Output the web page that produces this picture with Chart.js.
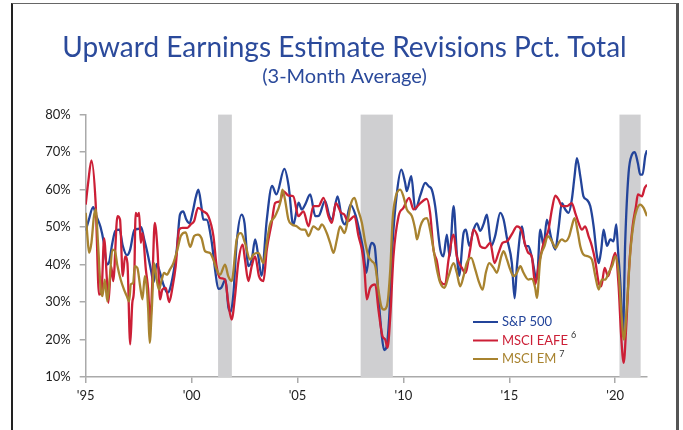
<!DOCTYPE html>
<html>
<head>
<meta charset="utf-8">
<script src="https://cdn.jsdelivr.net/npm/chart.js@4.4.1/dist/chart.umd.min.js"></script>
<style>
    body { margin: 0; background: #fff; }
    #frame {
        position: absolute; left: 11px; top: 3px; width: 663px; height: 440px;
        border-left: 2px solid #222; border-top: 1px solid #666; border-right: 3px solid #555;
    }
    #box { position: relative; width: 663px; height: 426px; }
</style>
</head>
<body>
<div id="frame"><div id="box"><canvas id="revisionsChart"></canvas></div></div>
<script>
// [year, % of revisions that are upward]
const sp500 = [
    [1995.0,49],[1995.15,52],[1995.35,55.3],[1995.5,53],[1995.7,50],[1995.85,46],[1996.0,40],[1996.1,40.5],
    [1996.25,45.5],[1996.4,49],[1996.6,49.3],[1996.75,45],[1996.95,42.5],[1997.1,44],[1997.3,49.3],[1997.5,49.5],
    [1997.62,50],[1997.75,47],[1997.9,43.5],[1998.1,38],[1998.2,35.2],[1998.35,40.2],[1998.5,38],[1998.65,35],
    [1998.85,32.5],[1998.95,33],[1999.15,38],[1999.3,44],[1999.45,53.3],[1999.6,54.2],[1999.75,52],[1999.9,51],
    [2000.05,54],[2000.2,58],[2000.32,60],[2000.45,56],[2000.55,52],[2000.7,52],[2000.95,46],[2001.1,39],
    [2001.26,33.5],[2001.4,33.8],[2001.6,36],[2001.74,28.5],[2001.85,27.5],[2001.97,32],[2002.13,46],[2002.36,53.3],
    [2002.5,51],[2002.68,39.6],[2002.84,41.3],[2003.0,46.7],[2003.15,42.2],[2003.3,37],[2003.55,52],[2003.8,61],
    [2004.0,58.7],[2004.38,65.5],[2004.58,61],[2004.8,50.5],[2005.05,56.5],[2005.2,54.7],[2005.36,56],[2005.6,58.7],
    [2005.84,52.9],[2006.0,53],[2006.3,57],[2006.5,53],[2006.62,52],[2006.89,58.2],[2007.1,52],[2007.25,50.7],
    [2007.5,56],[2007.75,53],[2007.96,48],[2008.1,44],[2008.25,37.8],[2008.4,44],[2008.5,45.8],[2008.64,44.9],
    [2008.82,31.6],[2008.98,21],[2009.09,17.2],[2009.2,18],[2009.33,26],[2009.49,45.8],[2009.69,59],[2009.9,65.3],
    [2010.08,61.8],[2010.16,59.6],[2010.37,63.6],[2010.56,54.7],[2010.8,58.5],[2011.03,61.8],[2011.19,60.9],[2011.34,60],
    [2011.5,55.6],[2011.74,44],[2011.89,42.2],[2012.05,48],[2012.18,42.2],[2012.37,55.6],[2012.52,43],[2012.63,37],
    [2012.84,48.4],[2012.95,49.3],[2013.11,45],[2013.31,49.3],[2013.47,51],[2013.63,49],[2013.78,50.7],[2013.94,53.3],
    [2014.15,45],[2014.33,47.6],[2014.57,53.8],[2014.73,52],[2014.89,47],[2015.12,40.4],[2015.25,31],[2015.36,39.6],
    [2015.6,50.2],[2015.75,45],[2015.9,44.9],[2016.06,42],[2016.3,36],[2016.46,49.3],[2016.62,45],[2016.77,52],
    [2016.98,47],[2017.17,44],[2017.33,50],[2017.48,56.4],[2017.64,54.7],[2017.8,53.8],[2017.95,57.3],[2018.08,63.6],
    [2018.19,68.4],[2018.35,63.6],[2018.5,58.2],[2018.66,57.3],[2018.82,55.6],[2018.98,50.2],[2019.14,42.2],[2019.22,40.4],
    [2019.34,44],[2019.45,49.3],[2019.61,45],[2019.77,46.7],[2019.92,46.2],[2020.05,50.7],[2020.13,44],[2020.24,35],
    [2020.36,21],[2020.47,45.8],[2020.63,64.4],[2020.79,69.3],[2020.92,70],[2021.07,67],[2021.18,64],[2021.29,64],
    [2021.42,69],[2021.5,70.5]
];

const msciEafe = [
    [1995.0,56],[1995.12,62],[1995.27,67.8],[1995.47,56.4],[1995.63,32],[1995.74,32.4],[1995.87,47],[1996.0,36],
    [1996.07,29.8],[1996.2,39.6],[1996.3,35.6],[1996.5,52.9],[1996.62,52],[1996.75,36.9],[1996.86,42.2],[1996.97,40.4],
    [1997.1,18.7],[1997.2,29.8],[1997.28,33.3],[1997.36,53.8],[1997.44,52.9],[1997.52,53.8],[1997.6,45.8],[1997.68,48.4],
    [1997.84,38.7],[1997.95,33.3],[1998.04,24.4],[1998.15,36],[1998.26,51.1],[1998.39,44],[1998.51,30.7],[1998.62,33.3],
    [1998.78,33.8],[1998.94,30],[1999.1,34],[1999.25,39.6],[1999.41,49.3],[1999.57,49.8],[1999.8,49.8],[1999.96,50.7],
    [2000.12,51.6],[2000.3,55.1],[2000.55,54.2],[2000.79,52.9],[2001.03,47.6],[2001.18,39.6],[2001.34,36.4],[2001.58,36],
    [2001.73,29.8],[2001.89,25.3],[2002.05,31.6],[2002.2,40.4],[2002.41,45.3],[2002.52,41.3],[2002.68,35.6],[2002.84,39.6],
    [2003.0,42.2],[2003.18,36.9],[2003.39,35.6],[2003.55,44],[2003.78,51.1],[2003.94,56.4],[2004.18,56.9],[2004.33,59.6],
    [2004.57,58.4],[2004.8,58.2],[2005.04,52.9],[2005.28,54.2],[2005.52,50.2],[2005.75,55.6],[2005.99,55.6],[2006.23,57.8],
    [2006.46,52.9],[2006.62,51.1],[2006.81,56.4],[2007.06,53.8],[2007.2,53.4],[2007.38,51.6],[2007.69,52.9],[2007.88,47.6],
    [2008.04,44],[2008.16,38.7],[2008.27,30.7],[2008.43,33.8],[2008.67,34.7],[2008.82,28],[2009.01,20.9],[2009.14,20],
    [2009.25,17.8],[2009.38,26.2],[2009.53,42.2],[2009.77,52.9],[2010.0,55.1],[2010.27,57.8],[2010.48,54.7],[2010.8,56.4],
    [2011.1,57.5],[2011.26,53.8],[2011.42,44],[2011.58,40.9],[2011.74,35.6],[2011.97,34.7],[2012.13,41.3],[2012.37,48],
    [2012.52,42.2],[2012.76,39.1],[2012.92,37.8],[2013.15,44],[2013.31,49.3],[2013.47,48],[2013.63,44.9],[2013.86,44.4],
    [2014.1,45.8],[2014.3,40.4],[2014.49,43.1],[2014.68,45.8],[2014.89,46.2],[2015.15,48.4],[2015.36,50.2],[2015.56,49.3],
    [2015.75,45.3],[2015.9,43.1],[2016.06,42.2],[2016.22,34.7],[2016.38,39.6],[2016.62,45.8],[2016.85,49.3],[2017.01,54.7],
    [2017.17,58.4],[2017.33,57.3],[2017.48,55.6],[2017.72,55.6],[2017.95,56.4],[2018.11,53.8],[2018.27,51.1],[2018.43,49.3],
    [2018.58,50.2],[2018.74,47.6],[2018.9,44.9],[2019.06,40.9],[2019.22,35.1],[2019.34,34.2],[2019.5,39.1],[2019.66,36.9],
    [2019.81,39.6],[2020.0,43.1],[2020.16,34.2],[2020.28,20.9],[2020.4,13.8],[2020.52,23.6],[2020.66,39.6],[2020.82,50.2],
    [2020.98,55.6],[2021.07,58.7],[2021.26,58.2],[2021.39,60.4],[2021.5,61.3]
];

const msciEm = [
    [1995.0,53.8],[1995.08,47.6],[1995.16,43.1],[1995.27,45.8],[1995.39,52.9],[1995.47,54.7],[1995.58,45.8],[1995.71,33.3],
    [1995.79,31.6],[1995.9,36],[1996.02,30.2],[1996.13,36],[1996.26,44],[1996.38,43.6],[1996.5,39.6],[1996.65,36],
    [1996.81,33.3],[1996.94,31.6],[1997.05,30.2],[1997.13,34.7],[1997.24,35.1],[1997.32,39.6],[1997.44,39.1],[1997.57,34.2],
    [1997.68,30.7],[1997.79,36.9],[1997.88,34.2],[1997.95,28],[1998.02,19.1],[1998.12,28],[1998.23,40.4],[1998.35,36],
    [1998.46,33.3],[1998.59,36],[1998.7,37.8],[1998.83,37.3],[1998.98,38.7],[1999.14,40.4],[1999.33,44],[1999.49,47.6],
    [1999.72,48.6],[1999.93,44.7],[2000.12,47.6],[2000.3,48],[2000.47,47],[2000.63,43.6],[2000.87,43.1],[2001.03,41.3],
    [2001.18,38.7],[2001.34,37.3],[2001.58,40],[2001.73,36.9],[2001.89,35.6],[2002.13,46.7],[2002.33,48.4],[2002.52,45.8],
    [2002.76,41.3],[2002.92,42.7],[2003.15,43.1],[2003.39,40.4],[2003.55,45.8],[2003.7,50.7],[2003.94,52.9],[2004.18,56.4],
    [2004.29,60],[2004.41,57.3],[2004.57,52],[2004.73,50.7],[2004.96,50.2],[2005.2,49.3],[2005.36,49.3],[2005.52,47.6],
    [2005.75,50.2],[2005.99,49.3],[2006.15,50.7],[2006.38,48.4],[2006.54,45.8],[2006.7,43.1],[2006.86,46.7],[2007.01,50.2],
    [2007.22,48.4],[2007.38,52],[2007.53,56.4],[2007.69,57.8],[2007.85,54.7],[2008.04,51.1],[2008.2,45.8],[2008.35,42.2],
    [2008.51,40.9],[2008.67,39.6],[2008.82,33.3],[2008.95,28.9],[2009.08,28],[2009.22,28.9],[2009.38,38.7],[2009.49,52],
    [2009.64,58.2],[2009.85,60],[2010.0,58.2],[2010.16,54.7],[2010.4,52.9],[2010.56,49.3],[2010.64,46.7],[2010.8,50.2],
    [2010.95,52],[2011.11,52.4],[2011.26,49.3],[2011.42,44],[2011.58,38.7],[2011.74,35.1],[2011.94,33.8],[2012.13,36.9],
    [2012.37,40.4],[2012.52,37.8],[2012.68,34.2],[2012.84,36.9],[2012.99,40.4],[2013.2,41.8],[2013.39,38.7],[2013.58,35.1],
    [2013.74,33.3],[2013.89,37.8],[2014.05,40.4],[2014.26,39.1],[2014.41,37.8],[2014.62,42.2],[2014.73,43.6],[2014.89,41.3],
    [2015.04,38.7],[2015.2,36.9],[2015.36,37.8],[2015.52,39.6],[2015.67,37.8],[2015.9,36],[2016.06,36.2],[2016.22,33.8],
    [2016.3,31.1],[2016.46,41.3],[2016.66,44.9],[2016.82,47.6],[2017.01,46.2],[2017.2,44.4],[2017.33,45.8],[2017.48,46.7],
    [2017.64,46.2],[2017.83,47.6],[2017.95,50.2],[2018.08,52.4],[2018.24,48.4],[2018.35,44.9],[2018.5,42.7],[2018.71,42.2],
    [2018.9,41.3],[2019.06,36.9],[2019.22,33.3],[2019.37,36],[2019.53,36],[2019.69,37.8],[2019.88,40],[2020.0,42.2],
    [2020.16,37.8],[2020.28,28],[2020.41,20],[2020.55,28.9],[2020.71,43.1],[2020.87,51.1],[2021.02,54.7],[2021.18,56],
    [2021.34,55.1],[2021.5,52.9]
];

const seriesNames = ['S&P 500', 'MSCI EAFE', 'MSCI EM'];
const footnotes = ['', '6', '7'];
const seriesColors = ['#23449a', '#cc1f36', '#a8832f'];

// shaded recession periods
const recessionStart = [2001.25, 2007.98, 2020.2];
const recessionEnd = [2001.9, 2009.5, 2021.2];

const xTickYears = [1995, 2000, 2005, 2010, 2015, 2020];
const xTickLabels = ["'95", "'00", "'05", "'10", "'15", "'20"];

const recessionBars = {
    id: 'recessionBars',
    beforeDatasetsDraw(chart) {
        const { ctx, chartArea, scales } = chart;
        ctx.save();
        ctx.fillStyle = '#cfcfd1';
        recessionStart.forEach((s, i) => {
            const x1 = scales.x.getPixelForValue(s);
            const x2 = scales.x.getPixelForValue(recessionEnd[i]);
            ctx.fillRect(x1, chartArea.top, x2 - x1, chartArea.bottom - chartArea.top);
        });
        ctx.restore();
    }
};

const insideLegend = {
    id: 'insideLegend',
    afterDatasetsDraw(chart) {
        const { ctx, chartArea } = chart;
        const x0 = chartArea.right - 174;
        ctx.save();
        seriesNames.forEach((name, i) => {
            const y = chartArea.bottom - 55 + i * 18.5;
            ctx.strokeStyle = seriesColors[i];
            ctx.lineWidth = 2;
            ctx.beginPath();
            ctx.moveTo(x0, y);
            ctx.lineTo(x0 + 25, y);
            ctx.stroke();
            ctx.font = '13px Lato';
            ctx.fillStyle = seriesColors[i];
            ctx.textBaseline = 'middle';
            ctx.fillText(name, x0 + 29, y);
            if (footnotes[i]) {
                const w = ctx.measureText(name).width;
                ctx.font = '9px Lato';
                ctx.fillStyle = '#333';
                ctx.fillText(footnotes[i], x0 + 29 + w + 3, y - 5);
            }
        });
        ctx.restore();
    }
};

const toPoints = arr => arr.map(p => ({ x: p[0], y: p[1] }));
const allSeries = [sp500, msciEafe, msciEm];

new Chart(document.getElementById('revisionsChart'), {
    type: 'line',
    data: {
        datasets: allSeries.map((s, i) => ({
            label: seriesNames[i],
            data: toPoints(s),
            borderColor: seriesColors[i],
            borderWidth: 2.3,
            pointRadius: 0,
            cubicInterpolationMode: 'monotone',
            fill: false,
            order: 3 - i
        }))
    },
    options: {
        responsive: true,
        maintainAspectRatio: false,
        animation: false,
        layout: { padding: { left: 29, right: 29, top: 0, bottom: 26 } },
        plugins: {
            legend: { display: false },
            tooltip: { enabled: false },
            title: {
                display: true,
                text: 'Upward Earnings Estimate Revisions Pct. Total',
                color: '#2b4a9b',
                font: { family: 'Lato', size: 28, weight: 'normal' },
                padding: { top: 27, bottom: 0 }
            },
            subtitle: {
                display: true,
                text: '(3-Month Average)',
                color: '#2b4a9b',
                font: { family: 'Lato', size: 20, weight: 'normal' },
                padding: { top: 0, bottom: 26 }
            }
        },
        scales: {
            x: {
                type: 'linear',
                min: 1995,
                max: 2021.5,
                afterBuildTicks: axis => { axis.ticks = xTickYears.map(v => ({ value: v })); },
                afterFit: axis => { axis.height = 27; },
                ticks: {
                    color: '#222',
                    font: { family: 'Lato', size: 13 },
                    padding: 5,
                    maxRotation: 0,
                    callback: v => xTickLabels[xTickYears.indexOf(v)]
                },
                grid: { drawOnChartArea: false, drawTicks: true, tickLength: 6, color: '#aaa', lineWidth: 1.5 },
                border: { display: true, color: '#aaa', width: 1.5 }
            },
            y: {
                min: 10,
                max: 80,
                afterFit: axis => { axis.width = 43.7; },
                ticks: {
                    stepSize: 10,
                    color: '#222',
                    font: { family: 'Lato', size: 13 },
                    padding: 9,
                    callback: v => v + '%'
                },
                grid: { drawOnChartArea: false, drawTicks: true, tickLength: 6, color: '#aaa', lineWidth: 1.5 },
                border: { display: true, color: '#aaa', width: 1.5 }
            }
        }
    },
    plugins: [recessionBars, insideLegend]
});
</script>
</body>
</html>
